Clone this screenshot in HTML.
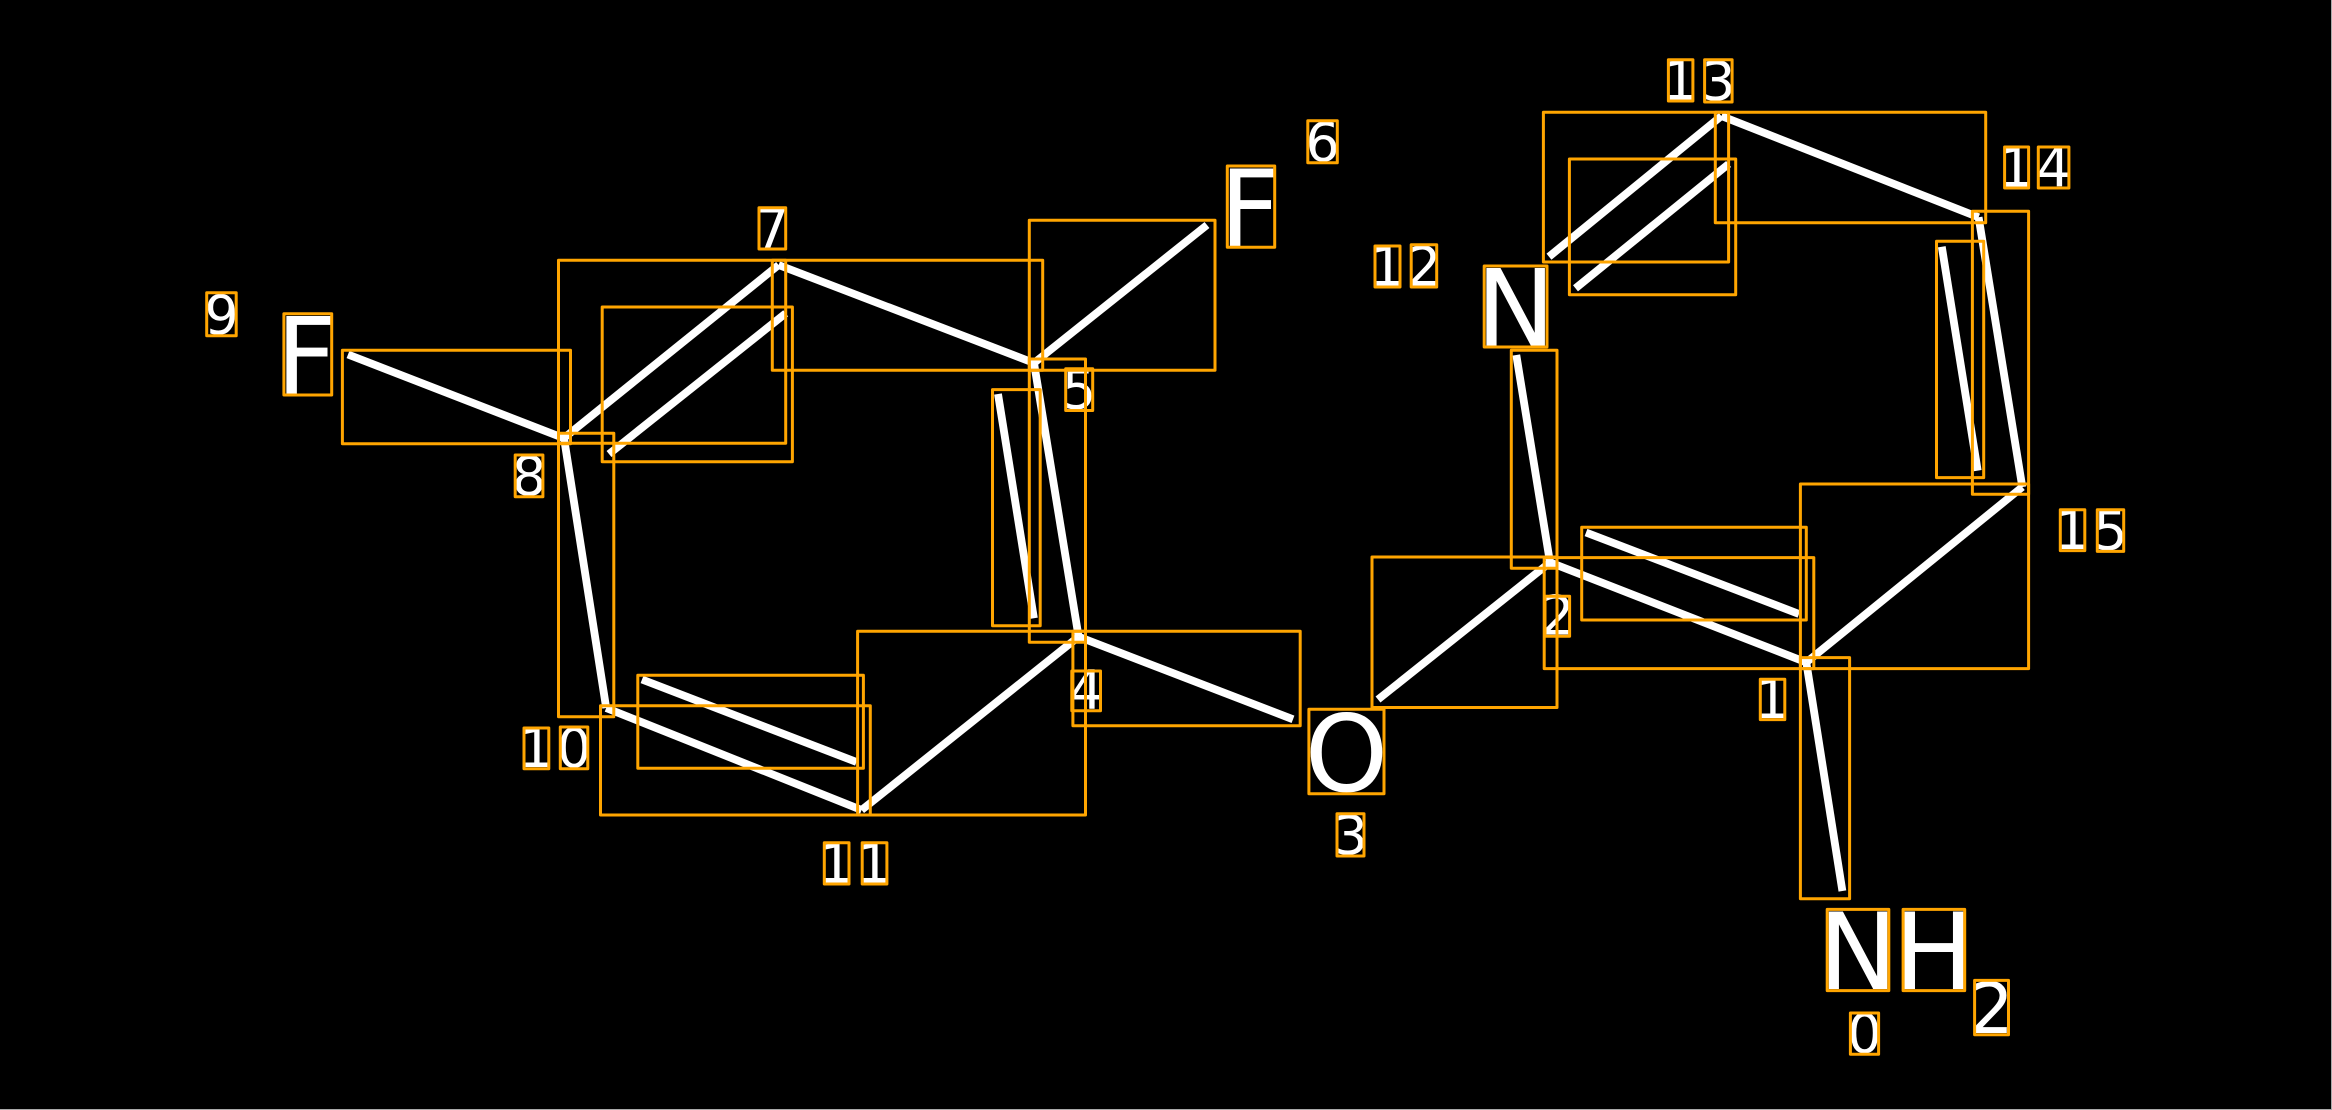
<!DOCTYPE html>
<html><head><meta charset="utf-8"><title>Molecule diagram</title>
<style>
html,body{margin:0;padding:0;background:#000;width:2332px;height:1110px;overflow:hidden}
svg{display:block}
text{font-family:"DejaVu Sans","Liberation Sans",sans-serif;fill:#fff;text-anchor:middle}
.d{font-size:54px}
.a{font-size:106px}
.s{font-size:70px}
</style></head><body>
<svg width="2332" height="1110" viewBox="0 0 2332 1110" xmlns="http://www.w3.org/2000/svg">
<rect width="2332" height="1110" fill="#000"/>
<rect x="2331" y="0" width="1" height="1110" fill="#aaa"/>
<rect x="0" y="1109" width="2332" height="1" fill="#aaa"/>
<g stroke="#fff" stroke-width="7.8" fill="none">
<line x1="348" y1="354.5" x2="564" y2="438.3"/>
<line x1="564" y1="438" x2="778.6" y2="265"/>
<line x1="609" y1="454" x2="785.7" y2="313.3"/>
<line x1="778.6" y1="265" x2="1034" y2="363"/>
<line x1="564" y1="438" x2="606.2" y2="708"/>
<line x1="606.2" y1="708" x2="861.6" y2="810"/>
<line x1="642" y1="679.5" x2="856.5" y2="762"/>
<line x1="861.6" y1="810" x2="1078.6" y2="636.7"/>
<line x1="1034" y1="363" x2="1078.6" y2="636.7"/>
<line x1="998" y1="394" x2="1033.9" y2="618.3"/>
<line x1="1034" y1="363" x2="1207" y2="225"/>
<line x1="1078.6" y1="636.7" x2="1293" y2="719.3"/>
<line x1="1378" y1="699.5" x2="1550" y2="562.4"/>
<line x1="1516.3" y1="355" x2="1550" y2="562.4"/>
<line x1="1550" y1="562.4" x2="1806.3" y2="662.4"/>
<line x1="1586" y1="532.5" x2="1799" y2="614"/>
<line x1="1806.3" y1="662.4" x2="2022.3" y2="487"/>
<line x1="1806.3" y1="662.4" x2="1842.4" y2="891"/>
<line x1="1978.6" y1="217.3" x2="2022.3" y2="487"/>
<line x1="1941.8" y1="246.7" x2="1977.7" y2="470.6"/>
<line x1="1721.4" y1="116" x2="1978.6" y2="217.3"/>
<line x1="1549" y1="256.7" x2="1721.4" y2="116"/>
<line x1="1575.5" y1="288.3" x2="1728.6" y2="164"/>
</g>
<g>
<text class="a" x="306.5" y="393.5">F</text>
<text class="a" x="1250" y="246">F</text>
<text class="a" x="1515.6" y="345.5">N</text>
<text class="a" x="1346.5" y="791">O</text>
<text class="a" x="1858" y="989">N</text>
<text class="a" x="1934" y="989">H</text>
<text class="s" x="1991.5" y="1033">2</text>
<text class="d" x="1864.5" y="1052.5">0</text>
<text class="d" x="1772" y="718">1</text>
<text class="d" x="1557.3" y="634.5">2</text>
<text class="d" x="1350.5" y="854">3</text>
<text class="d" x="1086" y="709">4</text>
<text class="d" x="1079" y="408.5">5</text>
<text class="d" x="1322.5" y="161">6</text>
<text class="d" x="772" y="247.3">7</text>
<text class="d" x="529" y="495">8</text>
<text class="d" x="221.5" y="334">9</text>
<text class="d" x="536" y="767">1</text>
<text class="d" x="574" y="767">0</text>
<text class="d" x="836" y="882.5">1</text>
<text class="d" x="874" y="882.5">1</text>
<text class="d" x="1387" y="285.5">1</text>
<text class="d" x="1424" y="285.5">2</text>
<text class="d" x="1680" y="99.5">1</text>
<text class="d" x="1718.3" y="100">3</text>
<text class="d" x="2016" y="186.5">1</text>
<text class="d" x="2053.6" y="186.5">4</text>
<text class="d" x="2072" y="549">1</text>
<text class="d" x="2110.5" y="549.5">5</text>
</g>
<g stroke="#ffa500" stroke-width="3" fill="none" stroke-linejoin="round">
<rect x="558.5" y="260.3" width="227.2" height="183"/>
<rect x="602.2" y="307" width="190.2" height="154.7"/>
<rect x="772.3" y="260.3" width="270.4" height="110"/>
<rect x="342.4" y="350.3" width="228.1" height="93.4"/>
<rect x="558.5" y="433.3" width="55.3" height="283.4"/>
<rect x="600.5" y="705.7" width="269.8" height="109.3"/>
<rect x="637.8" y="675.3" width="225.6" height="93"/>
<rect x="857.6" y="631.3" width="227.9" height="183.7"/>
<rect x="1072.9" y="631.3" width="227.3" height="94.4"/>
<rect x="992.5" y="389.6" width="47.7" height="236.1"/>
<rect x="1029.3" y="359" width="56.2" height="283.3"/>
<rect x="1029.3" y="220.3" width="185.7" height="150"/>
<rect x="1372" y="557" width="185" height="150.5"/>
<rect x="1511.3" y="350.3" width="45.7" height="217.9"/>
<rect x="1544.2" y="557.6" width="269.6" height="111"/>
<rect x="1581.7" y="527.3" width="224.6" height="92.7"/>
<rect x="1800.4" y="484" width="228.2" height="184.6"/>
<rect x="1800.4" y="657.6" width="49.2" height="241.2"/>
<rect x="1972.4" y="211.3" width="56.2" height="283"/>
<rect x="1936.5" y="241.3" width="47.2" height="236.3"/>
<rect x="1715.3" y="112.3" width="270.4" height="110.4"/>
<rect x="1543.4" y="112.3" width="185.2" height="149.7"/>
<rect x="1569.4" y="159" width="166.3" height="135.7"/>
<rect x="283.9" y="313.7" width="47.8" height="81.3"/>
<rect x="1227.3" y="166" width="47.4" height="81.3"/>
<rect x="1484.2" y="266" width="62.8" height="81"/>
<rect x="1308.9" y="709.3" width="75.1" height="84.4"/>
<rect x="1827.2" y="909.4" width="61.6" height="81.2"/>
<rect x="1903.1" y="909.4" width="61.6" height="81.2"/>
<rect x="1974.6" y="980.4" width="33.9" height="54.3"/>
<rect x="1850.4" y="1013" width="28.2" height="41.3"/>
<rect x="1760.3" y="679.2" width="24.5" height="40.4"/>
<rect x="1545" y="596.3" width="24.6" height="40"/>
<rect x="1337" y="813.7" width="27" height="42.3"/>
<rect x="1071.8" y="671" width="28.7" height="39.7"/>
<rect x="1065.7" y="368.7" width="27" height="41.8"/>
<rect x="1307.8" y="120.7" width="29.5" height="42.1"/>
<rect x="759" y="207.7" width="26.7" height="41.3"/>
<rect x="515.2" y="455" width="27.7" height="41.7"/>
<rect x="206.7" y="292.7" width="29.5" height="43"/>
<rect x="524" y="728" width="24.8" height="40.7"/>
<rect x="560.3" y="727" width="27.5" height="41.7"/>
<rect x="824.3" y="842.7" width="24.7" height="41.3"/>
<rect x="862.2" y="842.7" width="24.7" height="41.3"/>
<rect x="1375" y="246" width="25" height="41"/>
<rect x="1411.2" y="244.7" width="25.5" height="42.3"/>
<rect x="1668.4" y="59.7" width="24.5" height="41.3"/>
<rect x="1704.6" y="59.7" width="27.5" height="42.3"/>
<rect x="2004.6" y="147" width="24" height="41"/>
<rect x="2038.3" y="147" width="30.6" height="41"/>
<rect x="2060.3" y="509.8" width="24.5" height="40.8"/>
<rect x="2097.3" y="509.8" width="26.4" height="41.6"/>
</g>
</svg>
</body></html>
